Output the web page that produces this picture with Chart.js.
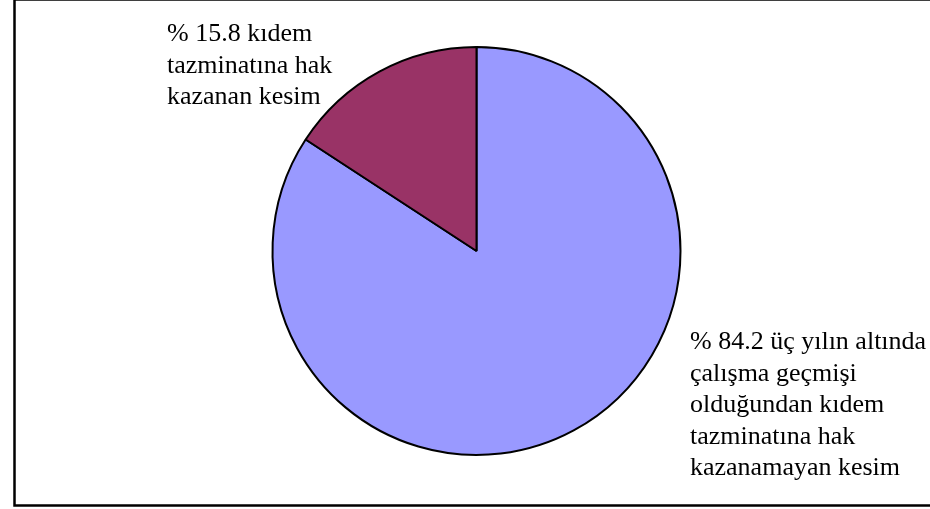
<!DOCTYPE html>
<html>
<head>
<meta charset="utf-8">
<script src="https://cdn.jsdelivr.net/npm/chart.js@4"></script>
<style>
  html, body { margin: 0; padding: 0; background: #fff; }
  #wrap { width: 930px; height: 509px; }
</style>
</head>
<body>
<div id="wrap"><canvas id="pieChart" width="930" height="509"></canvas></div>
<script>
// data
var kategori = ['kazanamayan', 'kazanan'];
var nilai = [84.2, 15.8];
var warna = ['#9999FF', '#993366'];
var labelKanan = ['% 84.2 üç yılın altında', 'çalışma geçmişi', 'olduğundan kıdem', 'tazminatına hak', 'kazanamayan kesim'];
var labelKiri = ['% 15.8 kıdem', 'tazminatına hak', 'kazanan kesim'];

// plugin untuk bingkai dan teks label
var labelPlugin = {
    id: 'labelPlugin',
    afterDraw: function(chart) {
        var ctx = chart.ctx;
        ctx.save();
        // bingkai
        ctx.strokeStyle = '#000';
        ctx.lineWidth = 2.5;
        ctx.strokeRect(14.5, -0.5, 1000, 506);
        // teks
        ctx.fillStyle = '#000';
        ctx.font = '26px "Liberation Serif"';
        ctx.textBaseline = 'alphabetic';
        ctx.textAlign = 'left';
        labelKiri.forEach(function(t, i) {
            ctx.fillText(t, 167, 41 + i * 31.5);
        });
        labelKanan.forEach(function(t, i) {
            ctx.fillText(t, 690, 349 + i * 31.5);
        });
        ctx.restore();
    }
};

var ctx = document.getElementById('pieChart').getContext('2d');
var myChart = new Chart(ctx, {
    type: 'pie',
    data: {
        labels: kategori,
        datasets: [{
            data: nilai,
            backgroundColor: warna,
            borderColor: '#000',
            borderWidth: 2,
            borderAlign: 'center'
        }]
    },
    options: {
        responsive: false,
        animation: false,
        events: [],
        layout: {
            padding: { top: 46, bottom: 53, left: 271, right: 248 }
        },
        plugins: {
            legend: { display: false },
            tooltip: { enabled: false }
        }
    },
    plugins: [labelPlugin]
});
</script>
</body>
</html>
